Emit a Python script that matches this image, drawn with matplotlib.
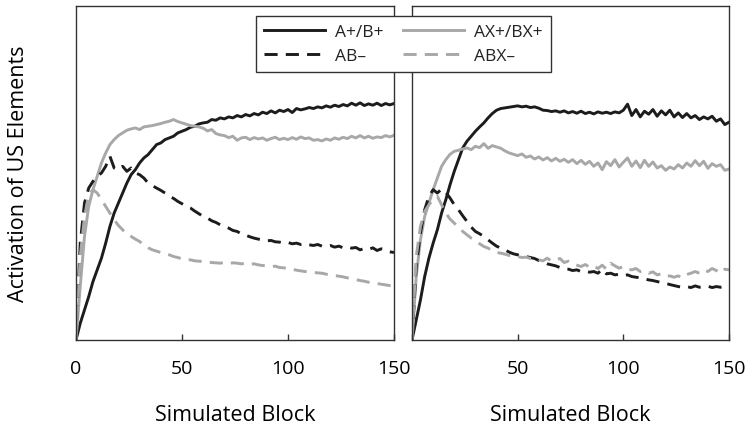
import numpy as np
import matplotlib
matplotlib.use("Agg")
import matplotlib.pyplot as plt

plt.rcParams['font.family'] = ['Open Sans', 'DejaVu Sans']

blocks = list(range(0, 151, 2))

# Left panel
left_ab_plus = [0.0, 0.05, 0.09, 0.13, 0.175, 0.21, 0.245, 0.29, 0.34, 0.38, 0.41, 0.44, 0.47, 0.495, 0.51, 0.53,
                0.545, 0.555, 0.57, 0.585, 0.59, 0.60, 0.605, 0.61, 0.62, 0.625, 0.63, 0.637, 0.64, 0.647, 0.65,
                0.652, 0.66, 0.658, 0.665, 0.662, 0.668, 0.665, 0.672, 0.668, 0.675, 0.671, 0.678, 0.674, 0.682,
                0.678, 0.686, 0.68, 0.688, 0.684, 0.69, 0.681, 0.693, 0.689, 0.692, 0.696, 0.693, 0.698, 0.695,
                0.701, 0.697, 0.703, 0.699, 0.705, 0.701, 0.709, 0.703, 0.71, 0.702, 0.707, 0.703, 0.709, 0.702,
                0.708, 0.704, 0.708]
left_ax_plus = [0.0, 0.16, 0.31, 0.40, 0.45, 0.49, 0.53, 0.56, 0.585, 0.60, 0.612, 0.62, 0.628, 0.632, 0.635, 0.63,
                0.638, 0.64, 0.642, 0.645, 0.648, 0.652, 0.655, 0.66, 0.654, 0.65, 0.646, 0.642, 0.64, 0.638, 0.634,
                0.626, 0.63, 0.618, 0.614, 0.612, 0.606, 0.61, 0.598, 0.605, 0.607, 0.6, 0.606, 0.602, 0.605, 0.598,
                0.603, 0.607, 0.6, 0.604, 0.6, 0.606, 0.601, 0.608, 0.603, 0.605, 0.598, 0.6, 0.596, 0.602, 0.598,
                0.605, 0.601, 0.607, 0.603, 0.61, 0.605, 0.612, 0.605, 0.61, 0.604, 0.608, 0.606, 0.612, 0.608, 0.613]
left_ab_minus = [0.0, 0.29, 0.41, 0.455, 0.475, 0.49, 0.50, 0.52, 0.55, 0.515, 0.51, 0.52, 0.505, 0.515, 0.50, 0.495,
                 0.485, 0.47, 0.462, 0.455, 0.448, 0.44, 0.43, 0.424, 0.415, 0.408, 0.40, 0.395, 0.386, 0.378, 0.37,
                 0.365, 0.357, 0.352, 0.345, 0.34, 0.335, 0.328, 0.325, 0.318, 0.314, 0.309, 0.305, 0.302, 0.3, 0.297,
                 0.298, 0.294, 0.293, 0.29, 0.292, 0.288, 0.29, 0.286, 0.289, 0.285, 0.283, 0.286, 0.281, 0.28, 0.283,
                 0.278, 0.281, 0.276, 0.279, 0.275, 0.277, 0.27, 0.274, 0.271, 0.276, 0.268, 0.273, 0.27, 0.264, 0.262]
left_abx_minus = [0.0, 0.25, 0.37, 0.435, 0.45, 0.44, 0.42, 0.40, 0.38, 0.36, 0.343, 0.33, 0.316, 0.31, 0.302, 0.295,
                  0.284, 0.276, 0.27, 0.266, 0.262, 0.258, 0.255, 0.25, 0.247, 0.243, 0.24, 0.24, 0.237, 0.236, 0.235,
                  0.233, 0.232, 0.231, 0.23, 0.232, 0.229, 0.231, 0.23, 0.228, 0.23, 0.227, 0.228, 0.225, 0.223, 0.222,
                  0.22, 0.221, 0.217, 0.216, 0.215, 0.212, 0.209, 0.207, 0.205, 0.204, 0.202, 0.201, 0.2, 0.197, 0.195,
                  0.193, 0.191, 0.189, 0.186, 0.183, 0.181, 0.178, 0.176, 0.173, 0.171, 0.169, 0.167, 0.165, 0.163, 0.162]

# Right panel
right_ab_plus = [0.0, 0.06, 0.12, 0.19, 0.245, 0.29, 0.33, 0.38, 0.42, 0.465, 0.505, 0.54, 0.575, 0.595, 0.61, 0.625,
                 0.638, 0.65, 0.665, 0.678, 0.688, 0.693, 0.695, 0.697, 0.699, 0.701, 0.698, 0.7, 0.696, 0.698, 0.694,
                 0.688, 0.687, 0.684, 0.686, 0.682, 0.686, 0.68, 0.684, 0.679, 0.685, 0.678, 0.682, 0.677, 0.683, 0.679,
                 0.682, 0.678, 0.683, 0.68, 0.688, 0.706, 0.672, 0.69, 0.668, 0.685, 0.676, 0.69, 0.67, 0.686, 0.674,
                 0.688, 0.668, 0.68, 0.666, 0.678, 0.665, 0.672, 0.66, 0.668, 0.662, 0.67, 0.655, 0.662, 0.645, 0.652]
right_ax_plus = [0.0, 0.19, 0.3, 0.37, 0.41, 0.45, 0.485, 0.52, 0.54, 0.556, 0.565, 0.568, 0.572, 0.575, 0.57, 0.58,
                 0.576, 0.588, 0.574, 0.582, 0.578, 0.574, 0.566, 0.56, 0.556, 0.552, 0.557, 0.547, 0.551, 0.542, 0.548,
                 0.539, 0.546, 0.536, 0.544, 0.535, 0.541, 0.532, 0.54, 0.528, 0.538, 0.526, 0.535, 0.52, 0.53, 0.51,
                 0.534, 0.522, 0.54, 0.518, 0.532, 0.545, 0.52, 0.536, 0.516, 0.538, 0.52, 0.533, 0.515, 0.522, 0.508,
                 0.518, 0.512, 0.525, 0.515, 0.53, 0.52, 0.537, 0.522, 0.535, 0.514, 0.528, 0.52, 0.525, 0.508, 0.512]
right_ab_minus = [0.0, 0.22, 0.32, 0.39, 0.43, 0.45, 0.44, 0.452, 0.442, 0.425, 0.405, 0.39, 0.372, 0.355, 0.338, 0.325,
                  0.318, 0.31, 0.3, 0.29, 0.281, 0.275, 0.27, 0.263, 0.258, 0.255, 0.252, 0.25, 0.247, 0.244, 0.238,
                  0.233, 0.228, 0.225, 0.222, 0.217, 0.213, 0.212, 0.208, 0.21, 0.205, 0.206, 0.203, 0.205, 0.2, 0.212,
                  0.198, 0.2, 0.195, 0.197, 0.193, 0.195, 0.19, 0.188, 0.186, 0.183, 0.18, 0.178, 0.175, 0.172, 0.17,
                  0.166, 0.163, 0.16, 0.158, 0.16, 0.157, 0.162, 0.158, 0.16, 0.161, 0.157, 0.16, 0.158, 0.161, 0.16]
right_abx_minus = [0.0, 0.25, 0.34, 0.385, 0.405, 0.42, 0.43, 0.405, 0.38, 0.362, 0.35, 0.338, 0.325, 0.315, 0.305, 0.297,
                   0.288, 0.28, 0.275, 0.268, 0.262, 0.26, 0.257, 0.253, 0.25, 0.25, 0.247, 0.248, 0.244, 0.246, 0.24,
                   0.237, 0.245, 0.236, 0.24, 0.244, 0.232, 0.236, 0.228, 0.224, 0.22, 0.226, 0.218, 0.222, 0.214, 0.224,
                   0.212, 0.23, 0.222, 0.215, 0.22, 0.212, 0.21, 0.214, 0.205, 0.208, 0.2, 0.204, 0.195, 0.198, 0.19,
                   0.192, 0.188, 0.192, 0.186, 0.196, 0.2, 0.205, 0.2, 0.21, 0.205, 0.214, 0.208, 0.2, 0.212, 0.21]

series_labels = ["A+/B+", "AB\u2013", "AX+/BX+", "ABX\u2013"]
xticks = [0, 50, 100, 150]
left_ticklabels = ["0", "50", "100", "150"]
right_ticklabels = ["", "50", "100", "150"]

BLACK = "#1c1c1c"
GRAY = "#a8a8a8"
LW = 2.1
DASH = (0, (4.5, 2.8))

fig = plt.figure(figsize=(7.47, 4.31), dpi=100)
axL = fig.add_axes([76 / 747, 90 / 431, 318 / 747, 334 / 431])
axR = fig.add_axes([412 / 747, 90 / 431, 317 / 747, 334 / 431])

panels = [
    (axL, left_ab_plus, left_ab_minus, left_ax_plus, left_abx_minus, left_ticklabels),
    (axR, right_ab_plus, right_ab_minus, right_ax_plus, right_abx_minus, right_ticklabels),
]

handles = None
for ax, abp, abm, axp, abxm, tl in panels:
    h1, = ax.plot(blocks, abp, color=BLACK, lw=LW, ls='-')
    h3, = ax.plot(blocks, axp, color=GRAY, lw=LW, ls='-')
    h2, = ax.plot(blocks, abm, color=BLACK, lw=LW, ls=DASH)
    h4, = ax.plot(blocks, abxm, color=GRAY, lw=LW, ls=DASH)
    handles = [h1, h2, h3, h4]
    ax.set_xlim(0, 150)
    ax.set_ylim(0, 1)
    ax.set_xticks(xticks)
    ax.set_xticklabels(tl)
    ax.set_yticks([])
    ax.tick_params(axis='x', direction='in', length=4, width=1, pad=14, labelsize=14, color='#333333')
    for s in ax.spines.values():
        s.set_color('#333333')
        s.set_linewidth(1.0)
    ax.set_xlabel("Simulated Block", fontsize=15.5, labelpad=19)

axL.set_ylabel("Activation of US Elements", fontsize=15.5, labelpad=34)

leg = fig.legend(handles, series_labels, ncol=2, loc='upper center',
                 bbox_to_anchor=(403.5 / 747, 1 - 17 / 431), fontsize=12.5,
                 handlelength=3.5, columnspacing=1.1, handletextpad=0.6,
                 labelspacing=0.45, borderpad=0.45, borderaxespad=0.0,
                 fancybox=False, framealpha=1, edgecolor='#333333')
leg.get_frame().set_linewidth(1.0)
for t in leg.get_texts():
    t.set_color('#222222')

fig.savefig("out.png", dpi=100)
